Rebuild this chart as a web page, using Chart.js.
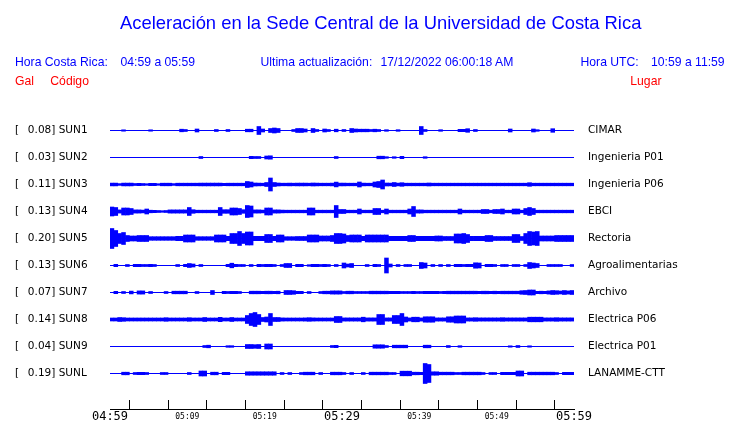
<!DOCTYPE html>
<html><head><meta charset="utf-8">
<script src="https://cdn.jsdelivr.net/npm/chart.js@4/dist/chart.umd.min.js"></script>
<style>
html,body{margin:0;padding:0;background:#fff;width:740px;height:423px;overflow:hidden;}
#wrap{position:relative;width:740px;height:423px;}
canvas{position:absolute;left:0;top:0;}
.t{position:absolute;white-space:pre;font-family:"Liberation Sans",Arial,sans-serif;font-size:12.2px;line-height:12px;color:#0000ff;}
.r{color:#ff0000;}
#title{font-size:18.4px;line-height:18px;}
</style></head><body>
<div id="wrap">
<canvas id="c" width="740" height="423"></canvas>
<div class="t" id="title" style="left:120px;top:14px;">Aceleración en la Sede Central de la Universidad de Costa Rica</div>
<div class="t" style="left:15px;top:55.5px;">Hora Costa Rica:</div>
<div class="t" style="left:120.5px;top:55.5px;">04:59 a 05:59</div>
<div class="t" style="left:260.5px;top:55.5px;">Ultima actualización:</div>
<div class="t" style="left:380.5px;top:55.5px;">17/12/2022 06:00:18 AM</div>
<div class="t" style="left:580.5px;top:55.5px;">Hora UTC:</div>
<div class="t" style="left:651px;top:55.5px;">10:59 a 11:59</div>
<div class="t r" style="left:15px;top:74.5px;">Gal</div>
<div class="t r" style="left:50.3px;top:74.5px;">Código</div>
<div class="t r" style="left:630.3px;top:74.5px;">Lugar</div>
</div>
<script>
// ---- data ----
const codes  = ['SUN1','SUN2','SUN3','SUN4','SUN5','SUN6','SUN7','SUN8','SUN9','SUNL'];
const peaks  = ['0.08','0.03','0.11','0.13','0.20','0.13','0.07','0.14','0.04','0.19'];
const places = ['CIMAR','Ingenieria P01','Ingenieria P06','EBCI','Rectoria','Agroalimentarias','Archivo','Electrica P06','Electrica P01','LANAMME-CTT'];
const tickMinutes = [0,10,20,30,40,50,60];
const tickLabels  = ['04:59','05:09','05:19','05:29','05:39','05:49','05:59'];
const binMinutes = 0.5; // envelope sampled every half minute, 60 minutes total

// amplitude envelopes (relative units), 120 half-minute bins per station
const amp_SUN1 = [
0,0,0,0.7,0,0,0,0,0,0,
0.7,0,0,0,0,0,0,0,1.3,1,
0,0,1.5,0,0,0,0,1,0,0,
1,0,0,0,0,1.3,1.3,0,4,1.5,
0,2,2.5,2,0,0,0,1,2,2,
1.5,0,2,1,0,1.5,1,0,1.3,0,
1,0,2,1.5,1.3,1.3,1.3,1,1.3,1,
0,0.8,0,0,0.8,0,0,0,0,0,
4,1,0,0,0,0.8,0,0,0,0,
1.2,1.2,1.8,0,1,0,0,0,0,0,
0,0,0,1.5,0,0,0,0,0,1.5,
0.8,0,0,0,1.8,0,0,0,0,0];
const amp_SUN2 = [
0,0,0,0,0,0,0,0,0,0,
0,0,0,0,0,0,0,0,0,0,
0,0,0,1,0,0,0,0,0,0,
0,0,0,0,0,0,1.2,1,1,0,
1.5,1.7,0,0,0,0,0,0,0,0,
0,0,0,0,0,0,0,0,1,0,
0,0,0,0,0,0,0,0,0,1.3,
1.3,0.8,0,0.8,0,1.2,0,0,0,0,
0,0.8,0,0,0,0,0,0,0,0,
0,0,0,0,0,0,0,0,0,0,
0,0,0,0,0,0,0,0,0,0,
0,0,0,0,0,0,0,0,0,0];
const amp_SUN3 = [
1.4,1.4,0.9,1.4,1.4,1.4,1,1.2,1,0.8,
1.2,1.2,0.8,1.3,1.3,1.3,0.9,1.3,1.3,1.3,
1.3,1.3,1.3,1.4,1.4,1.4,1.4,1.4,1.4,1.2,
1.3,1.3,1.3,1.3,1.3,3,2.5,1.5,1.4,1.3,
2,6.5,2,1.5,1.3,1.3,1.4,1.3,1.4,1.4,
1.4,1.3,1.5,1.4,1.3,1.3,1.3,1.4,2.4,1.4,
1.4,1.3,1.3,1.3,2.5,1.4,1.3,1.3,2.5,3,
4.5,1.5,1.4,2,1.4,1.8,1.3,1.3,1.3,1.3,
1.3,1.3,1.5,1.3,1.3,1.3,1.3,1.3,1.3,1.3,
1.3,1.3,1.3,1.3,1.3,1.3,1.3,1.3,1.3,1.3,
1.3,1.3,1.3,1.3,1.3,1.3,1.3,1.3,1.8,1.3,
1.3,1.3,1.3,1.3,1.3,1.3,1.3,1.3,1.3,1.3];
const amp_SUN4 = [
4.5,4,1.6,3.5,3.5,3,1.6,1.6,1.4,2.5,
1.3,1.2,1,0.8,1,1.6,1.6,1.6,1.6,1.6,
4,1.8,1.3,1.3,1.3,1.3,1.3,1.3,4,1.8,
1.8,3.5,3.5,3,1.8,6,5.5,1.6,1.6,1.4,
3.5,3.5,1.6,1.6,1.4,1.3,1.3,1.3,1.3,1.3,
1.3,3.5,3.5,1.3,1.3,1.3,1.3,1.3,6,2,
2,1.3,1.3,1.3,2.5,1.3,1.3,1.3,3,3,
1.3,2.5,1.3,1.3,1.3,1.3,1.3,2.5,5,1.6,
1.6,1.3,1.3,1.3,1.3,1.3,1.3,1.3,1.3,1.3,
2.5,1.3,1.3,1.3,1.3,1.3,2,2,1.3,2,
2,2.5,1.3,1.3,2.5,2.5,1.3,3,4,3,
1.3,1.3,1.3,1.3,1.3,1.3,1.3,1.3,1.3,1.3];
const amp_SUN5 = [
10,8,5,6,3,2.5,2.5,3,3,3,
1.8,1.8,1.8,1.8,1.8,1.8,1.8,2.2,2.2,3.5,
3.5,3.5,1.8,1.8,1.8,1.8,1.8,3.5,3.5,3.5,
2.2,5,5,7,5,6.5,6.5,2.2,2.2,2.2,
4,4,2.2,3.5,3.5,1.8,1.8,1.8,2,2,
2,3.5,3.5,3.5,2.5,2.5,2.5,3,5,5,
4.5,3,3.5,3.5,3.5,2.2,3.5,3.5,3.5,3.5,
3.5,3.5,2.2,2.2,2.2,2.2,2.2,3,3,2.2,
2.2,2.2,2.2,2.2,2.5,2.5,2,2,2,4.5,
4.5,5,4,2.2,2.2,2.2,2.2,3,3,2,
2,2,2,2,4,4,2,5,7,6.5,
7,2.5,2.5,2.5,2.5,3,3,3,3,3];
const amp_SUN6 = [
0,1.2,0,0,1,0,1.2,1.2,1,1,
1.2,1,0,0,0,0,0,1,0,1.2,
2,1.5,0,1,0,0,0,0,0,0,
1.2,2.3,1.2,1,1,0,1,0,1.2,1,
1.2,1.2,1,0,1,2,2,0,1.2,1.2,
0,0.8,1.2,1.2,1,1.2,1,0,1,0,
2.5,1.5,2,0,0,0,1,0,1.2,1,
0,7.5,1.5,0,1,0,1,1,0,0,
3,2.5,0,1,0,1,0,1,0,1.2,
1.2,1,1.2,1.2,2.7,2.5,0,1.2,1.2,1,
0,1,1,0,1,1,0,1,3,2.5,
2,0,0,1,1,1,1,0,0,1];
const amp_SUN7 = [
0,1.2,0,1,0,1.4,0,1.6,1.6,0,
1,0,0,0,1,0,1.3,1.3,1.3,1.3,
0,0,1,0,0,0,2,0,0,1.2,
1,1.2,1.2,1,0,0,1.3,1.3,1.3,1.2,
1.3,1.3,1.2,1.3,0,2,2,1.8,1.2,1.2,
0,1,0,0,1,1.3,1.3,1.6,1.6,1.6,
1,1.3,1.3,1,1,1,1,1.3,1.3,1.3,
1.3,1.3,1.2,1.2,1.2,1,1,1,1.2,1,
1,1.2,1.2,1.2,1.2,1,1.2,1.3,1.3,1.3,
1.3,1.3,1.3,1.3,1.3,1.2,1.3,1.3,1.2,1.3,
1.2,1.3,1.3,1.3,1.3,1.3,1.8,2,2.5,2.5,
1.2,1.3,1.2,1.6,2,1.8,1.5,2,1.6,2];
const amp_SUN8 = [
1.5,1.5,2,1.8,1.5,1.5,1.5,1.5,1.5,1.5,
1.5,1.5,1.5,1.5,1.8,1.5,1.5,1.5,1.5,1.5,
1.8,1.5,1.5,1.5,2,1.5,1.5,1.5,2.2,1.5,
1.5,2,1.5,1.5,1.5,4,6,7,5,2,
2.5,6,2,2,1.6,1.5,1.5,1.5,1.5,1.5,
1.6,1.8,1.6,1.5,1.5,1.5,1.5,1.5,3,3,
1.6,1.6,1.6,1.6,1.6,2.3,1.6,1.6,1.6,5,
5,1.6,1.6,4,4,6,2.5,1.6,2.3,2.3,
1.6,2.7,2.7,2.7,1.6,1.6,1.6,2.7,2.7,3.5,
3.5,3.5,1.6,1.6,1.8,1.6,1.6,1.6,1.6,1.6,
1.6,1.8,1.6,1.6,1.6,1.6,1.6,1.6,2.3,2.3,
2.3,2.3,1.6,1.6,1.6,1.8,1.6,1.6,1.6,1.6];
const amp_SUN9 = [
0,0,0,0,0,0,0,0,0,0,
0,0,0,0,0,0,0,0,0,0,
0,0,0,0,1,1.3,0,0,0,0,
0.8,0.8,0,0,0,2,2,1.8,2,0,
2.5,2.5,0,0,0,0,0,0,0,0,
0,0,0,0,0,0,0,1,1.2,0,
0,0,0,0,0,0,0,0,1.7,1.7,
1.7,1,0,1.3,1.3,1.3,1.3,0,0,0,
0,1.3,1.3,0,0,0,0,1,0,0,
0.8,0,0,0,0,0,0,0,0,0,
0,0,0,0.7,0,1,0,0,0.7,0,
0,0,0,0,0,0,0,0,0,0];
const amp_SUNL = [
0,0,0,1.3,1.3,0,1,1.2,1.2,1,
0,0,0,1,1,0,0,0,0,0,
1,0,0,2.5,2.5,0,1.3,1.3,0,1.2,
1.2,0,0,0,0,1.7,1.7,1.7,1.7,1.7,
1.7,1.7,1.7,0,1,0,1,0,0,1,
1.3,1.3,1.3,0,1,0,0,1.3,1.3,1.3,
1,0,1,0,0,1,0,1.3,1.3,1.3,
1.3,1.3,1,1,0,2.3,2.3,2.3,1.3,1.3,
1.2,10,9,1.7,1.7,1.3,1.3,1.3,1.3,1,
1,1.3,1.3,1.3,1.3,1.3,1,0,1,1,
0,1.2,1.2,1.2,1.2,2.5,2.5,0,1.3,1.3,
1.3,1.3,1.3,1.3,1.3,1,0,1.2,1.2,1.2];

const envelopes = [amp_SUN1,amp_SUN2,amp_SUN3,amp_SUN4,amp_SUN5,amp_SUN6,amp_SUN7,amp_SUN8,amp_SUN9,amp_SUNL];

// ---- chart ----
const BLUE = '#0000ff';
const ROW = 27;            // px between traces
const AMP = 1 / ROW;       // relative amplitude unit -> trace units
const TOTAL = 60;
const leftLabels = codes.map((c, i) => '[  \u2009' + peaks[i] + '] ' + c);

const datasets = [];
envelopes.forEach((arr, i) => {
  datasets.push({
    type: 'line', data: [{x: 0, y: i}, {x: TOTAL, y: i}],
    borderColor: BLUE, borderWidth: 1, pointRadius: 0, yAxisID: 'y', order: 1
  });
  datasets.push({
    type: 'bar', grouped: false, yAxisID: 'y',
    data: arr.map((a, k) => a > 0 ? {x: (k + 0.5) * binMinutes, y: [i - a * AMP, i + a * AMP]} : null).filter(Boolean),
    backgroundColor: BLUE, borderWidth: 0, barPercentage: 1, categoryPercentage: 1, order: 0
  });
});

Chart.defaults.font.family = 'DejaVu Sans';
const yMin = -0.5, yMax = -0.5 + 292 / ROW;
const setTicks = s => { s.ticks = codes.map((_, i) => ({value: i})); };

new Chart(document.getElementById('c'), {
  type: 'bar',
  data: {datasets},
  options: {
    responsive: false, animation: false, devicePixelRatio: 1,
    layout: {padding: {top: 117, left: 15, right: 0, bottom: 0}},
    plugins: {legend: {display: false}, tooltip: {enabled: false}},
    scales: {
      x: {
        type: 'linear', min: 0, max: TOTAL, offset: false,
        grid: {display: true, drawOnChartArea: false, drawTicks: true, tickLength: -9, color: '#000', lineWidth: 1},
        border: {display: true, color: '#000', width: 1},
        ticks: {
          stepSize: 5, autoSkip: false, maxRotation: 0, padding: 12, color: '#000',
          callback: v => { const j = tickMinutes.indexOf(v); return j >= 0 ? tickLabels[j] : ''; },
          font: ctx => (ctx.tick && ctx.tick.value % 30 === 0)
            ? {family: 'DejaVu Sans Mono', size: 12, lineHeight: 0.85}
            : {family: 'DejaVu Sans Mono', size: 8, lineHeight: 1.2}
        },
        afterFit: s => { s.height = 14; }
      },
      y: {
        type: 'linear', position: 'left', reverse: true, min: yMin, max: yMax,
        grid: {display: false, drawTicks: false}, border: {display: false},
        afterBuildTicks: setTicks,
        ticks: {autoSkip: false, crossAlign: 'far', padding: 0, color: '#000',
          font: {family: 'DejaVu Sans', size: 10.5},
          callback: v => leftLabels[v] ?? ''},
        afterFit: s => { s.width = 95; }
      },
      y2: {
        type: 'linear', position: 'right', reverse: true, min: yMin, max: yMax,
        grid: {display: false, drawTicks: true, tickLength: 14}, border: {display: false},
        afterBuildTicks: setTicks,
        ticks: {autoSkip: false, crossAlign: 'near', padding: 0, color: '#000',
          font: {family: 'DejaVu Sans', size: 10.5},
          callback: v => places[v] ?? ''},
        afterFit: s => { s.width = 166; }
      }
    }
  }
});
</script>
</body></html>
